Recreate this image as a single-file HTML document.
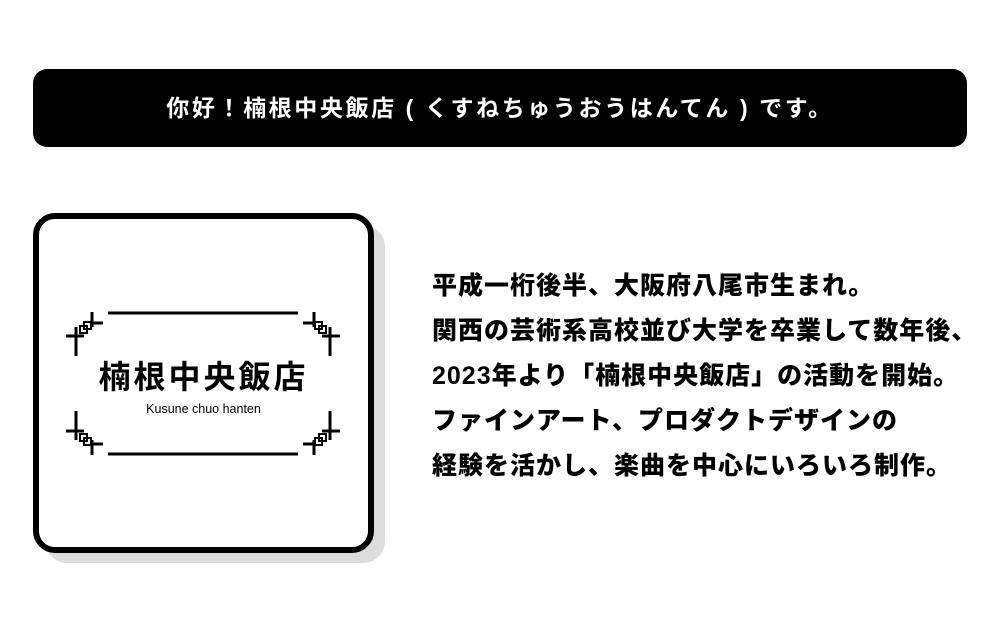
<!DOCTYPE html>
<html><head><meta charset="utf-8"><style>
html,body{margin:0;padding:0;width:1000px;height:635px;background:#fff;overflow:hidden;font-family:"Liberation Sans","Noto Sans CJK JP",sans-serif;}
.bar{position:absolute;left:33px;top:69px;width:934px;height:78px;background:#000;border-radius:14px;color:#fff;font-weight:700;font-size:23px;letter-spacing:2.6px;text-align:center;line-height:78px;}
.shadow{position:absolute;left:45px;top:225px;width:340px;height:338px;background:#ddd;border-radius:22px;}
.box{position:absolute;left:33px;top:213px;width:329px;height:328px;border:6px solid #000;border-radius:22px;background:#fff;}
.title{position:absolute;left:33px;width:341px;top:357px;text-align:center;font-size:32px;font-weight:700;letter-spacing:3px;line-height:40px;}
.sub{position:absolute;left:33px;width:341px;top:401px;text-align:center;font-size:12.5px;font-weight:300;line-height:16px;}
.txt{position:absolute;left:432px;top:264px;font-size:25px;font-weight:900;line-height:45px;white-space:nowrap;letter-spacing:1px;}
svg{position:absolute;left:0;top:0;}
</style></head><body>
<div class="bar">你好！楠根中央飯店 ( くすねちゅうおうはんてん ) です。</div>
<div class="shadow"></div>
<div class="box"></div>
<svg width="1000" height="635">
<defs>
<g id="orn" stroke="#000" fill="none">
<line x1="76" y1="327" x2="76" y2="356" stroke-width="3"/>
<line x1="66" y1="336" x2="84" y2="336" stroke-width="3"/>
<rect x="80" y="326" width="7" height="7" stroke-width="2"/>
<rect x="84" y="322" width="7" height="7" stroke-width="2"/>
<line x1="92" y1="312" x2="92" y2="327" stroke-width="3"/>
<line x1="91" y1="323" x2="103" y2="323" stroke-width="3"/>
</g>
</defs>
<line x1="108" y1="313" x2="298" y2="313" stroke="#000" stroke-width="3"/>
<line x1="108" y1="454" x2="298" y2="454" stroke="#000" stroke-width="3"/>
<use href="#orn"/>
<use href="#orn" transform="translate(406,0) scale(-1,1)"/>
<use href="#orn" transform="translate(0,767) scale(1,-1)"/>
<use href="#orn" transform="translate(406,767) scale(-1,-1)"/>
</svg>
<div class="title">楠根中央飯店</div>
<div class="sub">Kusune chuo hanten</div>
<div class="txt">平成一桁後半、大阪府八尾市生まれ。<br>関西の芸術系高校並び大学を卒業して数年後、<br>2023年より「楠根中央飯店」の活動を開始。<br>ファインアート、プロダクトデザインの<br>経験を活かし、楽曲を中心にいろいろ制作。</div>
</body></html>
